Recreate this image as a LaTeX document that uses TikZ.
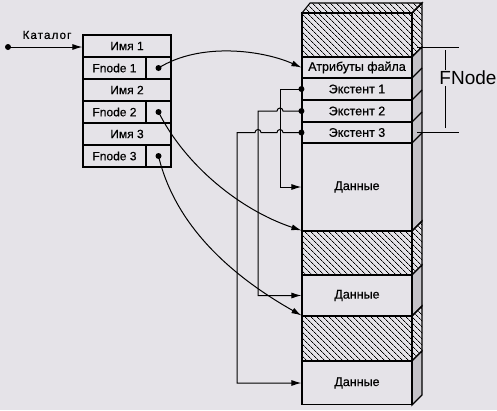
\documentclass[tikz,border=0pt]{standalone}
\usepackage{fontspec}
\setmainfont[FakeBold=0.6]{Liberation Sans}
\newfontfamily\widefont[LetterSpace=10,FakeBold=0.6]{Liberation Sans}
\newfontfamily\plainfont{Liberation Sans}
\usetikzlibrary{arrows.meta,patterns.meta}
\definecolor{bg}{RGB}{229,227,232}
\definecolor{sidegray}{RGB}{196,194,199}
\begin{document}
\begin{tikzpicture}[x=1pt,y=-1pt,
  cell/.style={draw,line width=1.1pt,minimum height=22pt,inner sep=0pt,font=\fontsize{12}{13}\selectfont},
  blk/.style={draw,line width=1.1pt,inner sep=0pt,minimum width=110pt,font=\fontsize{12.5}{13}\selectfont},
  hatch/.style={pattern={Lines[angle=-45,distance=4pt,line width=0.7pt]}},
  side/.style={draw,line width=1.1pt,fill=sidegray},
  hside/.style={draw,line width=1.1pt,hatch},
  conn/.style={line width=1pt},
  arr/.style={conn,-{Latex[length=10pt,width=6pt]}},
  dot/.style={circle,fill,inner sep=0pt,minimum size=6pt}
]
\fill[bg] (0,0) rectangle (497,410);
\useasboundingbox (0,0) rectangle (497,410);

% catalog table
\node[cell,minimum width=88pt] (n1) at (127,46) {Имя 1};
\node[cell,minimum width=63pt] (f1) at (114.5,68) {Fnode 1};
\node[cell,minimum width=25pt] (c1) at (158.5,68) {};
\node[cell,minimum width=88pt] (n2) at (127,90) {Имя 2};
\node[cell,minimum width=63pt] (f2) at (114.5,112) {Fnode 2};
\node[cell,minimum width=25pt] (c2) at (158.5,112) {};
\node[cell,minimum width=88pt] (n3) at (127,134) {Имя 3};
\node[cell,minimum width=63pt] (f3) at (114.5,156) {Fnode 3};
\node[cell,minimum width=25pt] (c3) at (158.5,156) {};

\node[dot] (p1) at (c1.center) {};
\node[dot] (p2) at (c2.center) {};
\node[dot] (p3) at (c3.center) {};

\node[font=\widefont\fontsize{11.5}{12}\selectfont] (katl) at (47,35) {Каталог};
\node[dot] (kat) at (8,47) {};
\draw[arr] (kat.center) -- (n1.west |- kat);

% right column: top face and sides
\draw[hside] (302,13) -- (310,3) -- (422,3) -- (412,13) -- cycle;
\draw[hside] (412,13) -- (422,3) -- (422,47) -- (412,57) -- cycle;
\draw[side] (412,57) -- (422,47) -- (422,221) -- (412,231) -- cycle;
\draw[line width=1.1pt] (412,78) -- (422,68);
\draw[line width=1.1pt] (412,100) -- (422,90);
\draw[line width=1.1pt] (412,122) -- (422,112);
\draw[line width=1.1pt] (412,143) -- (422,133);
\draw[hside] (412,231) -- (422,221) -- (422,265) -- (412,275) -- cycle;
\draw[side] (412,275) -- (422,265) -- (422,306) -- (412,316) -- cycle;
\draw[hside] (412,316) -- (422,306) -- (422,351) -- (412,361) -- cycle;
\draw[side] (412,361) -- (422,351) -- (422,395) -- (412,405) -- cycle;

% right column: front blocks
\node[blk,hatch,minimum height=44pt] (h1) at (357,35) {};
\node[blk,minimum height=21pt] (attr) at (357,67.5) {Атрибуты файла};
\node[blk,minimum height=22pt] (e1) at (357,89) {Экстент 1};
\node[blk,minimum height=22pt] (e2) at (357,111) {Экстент 2};
\node[blk,minimum height=21pt] (e3) at (357,132.5) {Экстент 3};
\node[blk,minimum height=88pt] (d1) at (357,187) {Данные};
\node[blk,hatch,minimum height=44pt] (h2) at (357,253) {};
\node[blk,minimum height=41pt] (d2) at (357,295.5) {Данные};
\node[blk,hatch,minimum height=45pt] (h3) at (357,338.5) {};
\node[blk,minimum height=43pt] (d3) at (357,383) {Данные};

% FNode bracket
\coordinate (bt1) at (417,47);
\coordinate (bt2) at (459,47);
\coordinate (bb1) at (417,132);
\coordinate (bb2) at (459,132);
\draw[conn] (bt1) -- (bt2);
\draw[conn] (bb1) -- (bb2);
\node[font=\plainfont\fontsize{19}{20}\selectfont,inner sep=1pt] (fn) at (468,78) {FNode};
\coordinate (bv1) at (445,50);
\coordinate (bv2) at (445,128);
\draw[conn] (bv1) -- (bv1 |- fn.north);
\draw[conn] (bv2) -- (bv2 |- fn.south);

% extent pointers
\node[dot] (x1) at (e1.west) {};
\node[dot] (x2) at (e2.west) {};
\node[dot] (x3) at (e3.west) {};
\draw[arr] (x1.center) -- (280,89) |- (d1.west);
\draw[arr] (x2.center) -- (283,111) arc[start angle=0,end angle=180,radius=3pt] -- (258,111) |- (d2.west);
\draw[arr] (x3.center) -- (283,132.5) arc[start angle=0,end angle=180,radius=3pt]
  -- (261,132.5) arc[start angle=0,end angle=180,radius=3pt] -- (237,132.5) |- (d3.west);

% fnode pointers
\draw[arr] (p1.center) .. controls (200,42) and (262,50) .. (attr.west);
\draw[arr] (p2.center) .. controls (185,165) and (240,210) .. (h2.north west);
\draw[arr] (p3.center) .. controls (175,225) and (230,275) .. (h3.north west);
\end{tikzpicture}
\end{document}
